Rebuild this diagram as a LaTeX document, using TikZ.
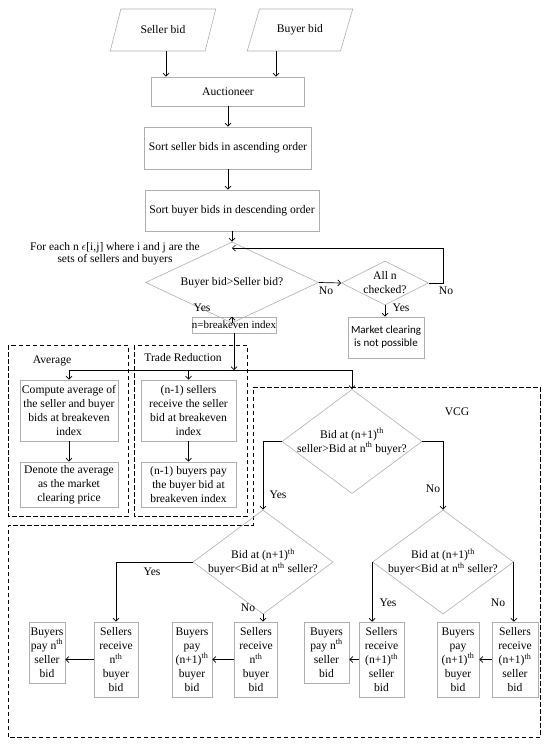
\documentclass[tikz,border=0pt]{standalone}
\usepackage{fontspec}
\setmainfont{Liberation Serif}
\newfontfamily\calibrifont{Carlito}
\usepackage{xcolor}
\definecolor{boxgrayMW}{RGB}{175,175,175}
\usepackage{tikz}
\usetikzlibrary{arrows.meta, positioning, shapes.geometric, calc}
\tikzset{
  procbox/.style={draw=boxgrayMW, line width=0.6pt, align=center, inner sep=1pt},
  inbox/.style={trapezium, trapezium left angle=60, trapezium right angle=120,
    trapezium stretches=true, draw=boxgrayMW, line width=0.6pt,
    minimum width=106pt, minimum height=42pt, inner sep=1pt},
  decision/.style={diamond, draw=boxgrayMW, line width=0.6pt, align=center, inner sep=-8pt},
  arr/.style={-{Straight Barb[length=3pt,width=6pt]}, line width=0.7pt},
  conn/.style={line width=0.7pt},
  groupbox/.style={dash pattern=on 4.5pt off 2.5pt, line width=0.9pt}
}

\begin{document}
\begin{tikzpicture}[x=1pt, y=-1pt, every node/.style={font=\fontsize{11.6}{14}\selectfont}]
\useasboundingbox (0,0) rectangle (550,747);

% === Inputs and sorting ===
\node[inbox] (sellerbid) at (163,30) {Seller bid};
\node[inbox] (buyerbid) at (300,30) {Buyer bid};
\node[procbox, minimum width=153pt, minimum height=29pt] (auct) at (228,91.5) {Auctioneer};
\node[procbox, minimum width=167pt, minimum height=42pt] (sortS) at (228,148) {Sort seller bids in ascending order};
\node[procbox, minimum width=174pt, minimum height=41pt] (sortB) at (232,210.5) {Sort buyer bids in descending order};

\draw[arr] ($(sellerbid.center |- sellerbid.south)+(3,0)$) -- ($(sellerbid.center |- auct.north)+(3,0)$);
\draw[arr] ($(buyerbid.center |- buyerbid.south)+(-24,0)$) -- ($(buyerbid.center |- auct.north)+(-24,0)$);
\draw[arr] (auct) -- (sortS);
\draw[arr] (sortS.south) -- (sortS.south |- sortB.north);

% === Breakeven search ===
\node[align=center, font=\fontsize{11.5}{12}\selectfont] (foreach) at (115,254) {For each n $\epsilon$[i,j] where i and j are the\\sets of sellers and buyers};
\node[decision, minimum width=173pt, minimum height=41pt] (check) at (232,282.5) {Buyer bid>Seller bid?};
\node[decision, minimum width=87pt, minimum height=44pt] (allchk) at (385,283) {All n\\checked?};
\node[procbox, minimum width=84pt, minimum height=16pt, inner sep=0pt, font=\fontsize{11}{12}\selectfont] (brk) at (234,325) {n=breakeven index};
\node[procbox, minimum width=76pt, minimum height=41pt, font=\calibrifont\fontsize{11}{13}\selectfont] (market) at (386,337.5) {Market clearing\\is not possible};

\coordinate (loop) at (443,248);
\draw[arr] (sortB) -- (check);
\draw[arr] (allchk.east) -| (loop) -- (check.north |- loop);
\draw[arr] (check.east) -- (allchk.west);
\draw[arr] (check.south) -- (check.south |- brk.north);
\draw[arr] (allchk.south) -- (allchk.south |- market.north);

\node (no1) at (326,291) {No};
\node (no2) at (446,291) {No};
\node (yes1) at (202,308) {Yes};
\node (yes2) at (401,308) {Yes};

% === Average and Trade Reduction ===
\draw[groupbox] (8,345) rectangle (128,516);
\draw[groupbox] (134,345) rectangle (247,516);
\node (avglbl) at (52,361) {Average};
\node (trlbl) at (183,358) {Trade Reduction};

\node[procbox, minimum width=98pt, minimum height=61pt] (compute) at (69,410.5) {Compute average of\\the seller and buyer\\bids at breakeven\\index};
\node[procbox, minimum width=98pt, minimum height=45pt] (denote) at (69,484.5) {Denote the average\\as the market\\clearing price};
\node[procbox, minimum width=95pt, minimum height=61pt] (nsell) at (188.5,410.5) {(n-1) sellers\\receive the seller\\bid at breakeven\\index};
\node[procbox, minimum width=95pt, minimum height=45pt] (nbuy) at (188.5,484.5) {(n-1) buyers pay\\the buyer bid at\\breakeven index};

% === VCG ===
\draw[groupbox] (253,387) -- (540,387) -- (540,737) -- (8,737) -- (8,525) -- (253,525) -- cycle;
\node (vcglbl) at (457,412) {VCG};
\node[decision, minimum width=140pt, minimum height=83pt] (vcg) at (352,441.5) {Bid at (n+1)\textsuperscript{th}\\seller>Bid at n\textsuperscript{th} buyer?};
\node[decision, minimum width=140pt, minimum height=84pt] (vcgL) at (263,562) {Bid at (n+1)\textsuperscript{th}\\buyer<Bid at n\textsuperscript{th} seller?};
\node[decision, minimum width=141pt, minimum height=84pt] (vcgR) at (443,562) {Bid at (n+1)\textsuperscript{th}\\buyer<Bid at n\textsuperscript{th} seller?};

\coordinate (bus) at (0,370);
\draw[arr] (brk.south) -- (brk.south |- bus);
\draw[conn] (compute.north |- bus) -- (vcg.north |- bus);
\draw[arr] (compute.north |- bus) -- (compute.north);
\draw[arr] (nsell.north |- bus) -- (nsell.north);
\draw[arr] (vcg.north |- bus) -- (vcg.north);
\draw[arr] (compute) -- (denote);
\draw[arr] (nsell) -- (nbuy);

\draw[arr] (vcg.west) -| (vcgL.north);
\draw[arr] (vcg.east) -| (vcgR.north);

\node (yes3) at (278,495) {Yes};
\node (no3) at (433,489) {No};
\node (yes4) at (152,572) {Yes};
\node (no4) at (248,608) {No};
\node (yes5) at (388,603) {Yes};
\node (no5) at (498,603) {No};

% outcome boxes
\foreach \nm/\cx/\cy/\bw/\bh/\txt in {
  b1/47/652.5/36/61/{Buyers\\pay n\textsuperscript{th}\\seller\\bid},
  b2/116/659.5/44/75/{Sellers\\receive\\n\textsuperscript{th}\\buyer\\bid},
  b3/192/659.5/40/75/{Buyers\\pay\\(n+1)\textsuperscript{th}\\buyer\\bid},
  b4/256/659.5/43/75/{Sellers\\receive\\n\textsuperscript{th}\\buyer\\bid},
  b5/326.5/652.5/45/61/{Buyers\\pay n\textsuperscript{th}\\seller\\bid},
  b6/381.5/659.5/45/75/{Sellers\\receive\\(n+1)\textsuperscript{th}\\seller\\bid},
  b7/458/659.5/42/75/{Buyers\\pay\\(n+1)\textsuperscript{th}\\buyer\\bid},
  b8/515/659.5/46/75/{Sellers\\receive\\(n+1)\textsuperscript{th}\\seller\\bid}}
  {\node[procbox, minimum width=\bw pt, minimum height=\bh pt] (\nm) at (\cx,\cy) {\txt};}

\draw[arr] (vcgL.west) -| (b2.north);
\draw[arr] (vcgL.south) -- (vcgL.south |- b4.north);
\draw[arr] (vcgR.west) -- (vcgR.west |- b6.north);
\draw[arr] (vcgR.east) -- (vcgR.east |- b8.north);
\foreach \s/\b in {b2/b1, b4/b3, b6/b5, b8/b7}
  \draw[arr] (\s.west) -- (\s.west -| \b.east);
\end{tikzpicture}
\end{document}
